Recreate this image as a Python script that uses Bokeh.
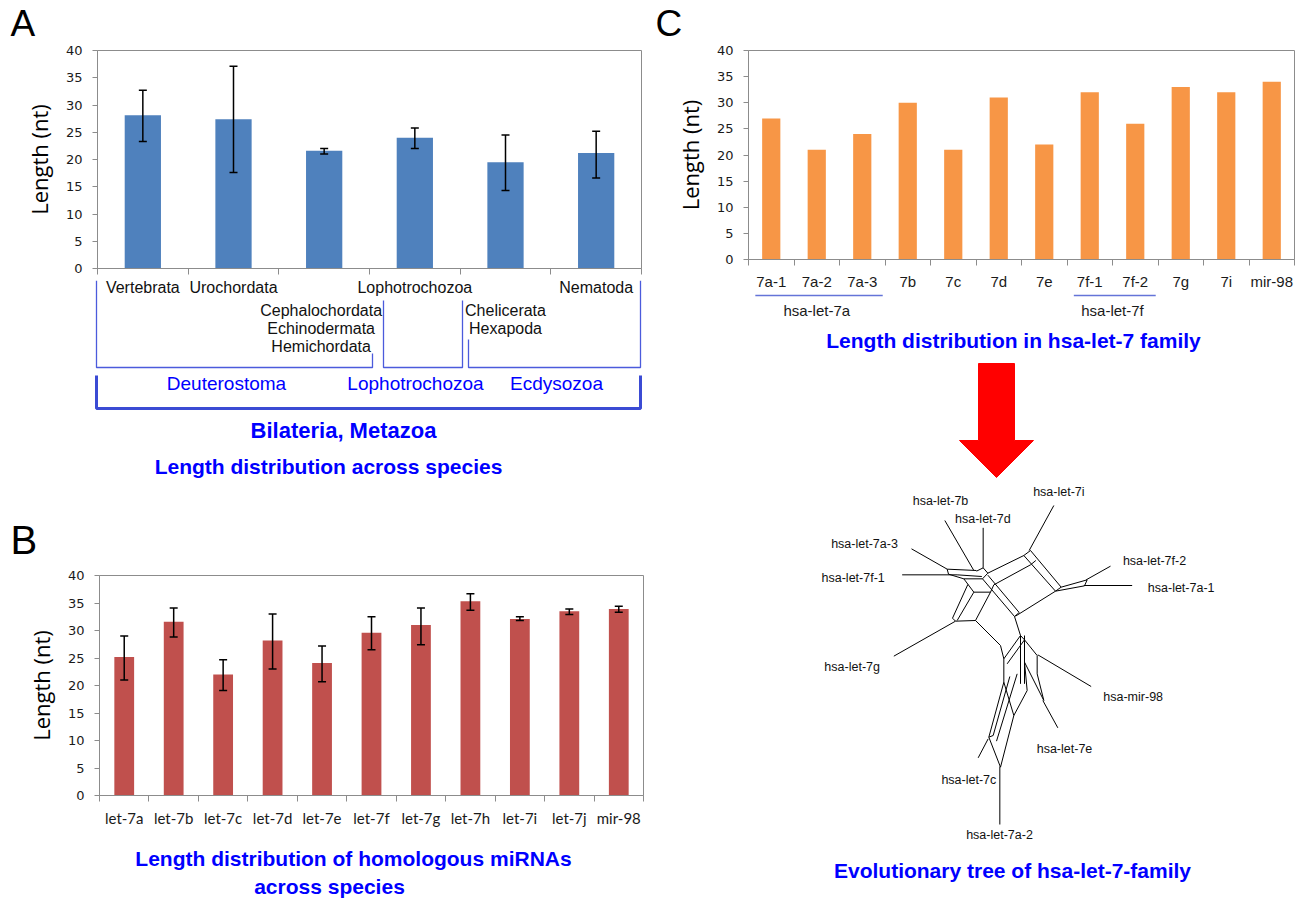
from bokeh.plotting import figure
from bokeh.models import Range1d, FixedTicker, ColumnDataSource, Whisker, TeeHead
from bokeh.layouts import row, column
from bokeh.core.properties import value
from bokeh.embed import file_html
from bokeh.resources import INLINE

# ---------------- data ----------------
# Panel A: length distribution across species
a_row1 = ["Vertebrata", "Urochordata", "", "Lophotrochozoa", "", "Nematoda"]
a_row2 = [[], [], ["Cephalochordata", "Echinodermata", "Hemichordata"], [], ["Chelicerata", "Hexapoda"], []]
a_values = [28.1, 27.4, 21.6, 24.0, 19.5, 21.2]
a_err_low = [23.3, 17.6, 21.0, 22.0, 14.3, 16.6]
a_err_high = [32.7, 37.1, 22.0, 25.8, 24.5, 25.2]
a_groups = ["Deuterostoma", "Lophotrochozoa", "Ecdysozoa"]

# Panel B: homologous miRNAs across species
b_labels = ["let-7a", "let-7b", "let-7c", "let-7d", "let-7e", "let-7f", "let-7g",
            "let-7h", "let-7i", "let-7j", "mir-98"]
b_values = [25.2, 31.6, 22.0, 28.2, 24.1, 29.6, 31.0, 35.3, 32.1, 33.5, 33.9]
b_err_low = [21.0, 28.8, 19.1, 23.0, 20.7, 26.5, 27.4, 33.7, 31.8, 32.9, 33.3]
b_err_high = [29.0, 34.1, 24.7, 33.0, 27.2, 32.5, 34.1, 36.7, 32.5, 33.9, 34.4]

# Panel C: hsa-let-7 family
c_labels = ["7a-1", "7a-2", "7a-3", "7b", "7c", "7d", "7e", "7f-1", "7f-2", "7g", "7i", "mir-98"]
c_values = [27, 21, 24, 30, 21, 31, 22, 32, 26, 33, 32, 34]
c_groups = ["hsa-let-7a", "hsa-let-7f"]
c_group_span = [(0, 2), (7, 8)]

y_ticks = [0, 5, 10, 15, 20, 25, 30, 35, 40]

# Evolutionary network (drawing units, 3 units = 1 px)
tree_segments = [
    (760, 105, 686, 240), (433, 150, 520, 300), (548, 172, 548, 292), (333, 235, 440, 296),
    (305, 313, 470, 313), (930, 287, 857, 328), (995, 345, 850, 345), (280, 557, 465, 452),
    (872, 648, 712, 553), (772, 772, 727, 690), (533, 862, 563, 805), (598, 1062, 598, 888),
    (440, 296, 528, 300), (440, 296, 444, 311), (444, 311, 490, 325), (490, 325, 546, 325),
    (470, 313, 544, 318), (548, 292, 562, 308), (548, 292, 528, 302), (562, 308, 546, 325),
    (562, 308, 670, 255), (580, 343, 690, 283), (670, 255, 690, 240), (690, 283, 706, 270),
    (670, 255, 765, 362), (690, 240, 782, 350), (765, 362, 782, 350),
    (782, 350, 860, 328), (765, 362, 852, 346), (852, 346, 860, 328),
    (765, 362, 645, 437), (546, 325, 642, 438), (562, 314, 656, 426), (642, 438, 656, 426),
    (490, 325, 520, 365), (520, 365, 470, 450), (502, 342, 456, 443), (456, 443, 465, 452),
    (520, 365, 570, 365), (570, 365, 525, 450), (465, 452, 525, 450), (570, 365, 580, 343),
    (525, 450, 600, 525), (600, 525, 610, 565), (642, 438, 660, 495), (660, 495, 610, 565),
    (672, 508, 620, 580), (660, 495, 660, 640), (672, 495, 672, 640), (660, 495, 672, 508),
    (672, 508, 710, 555), (710, 555, 710, 610), (710, 610, 730, 690), (672, 575, 730, 690),
    (610, 565, 610, 635), (610, 635, 640, 735), (680, 660, 640, 735), (672, 575, 680, 660),
    (610, 635, 565, 800), (628, 618, 578, 795), (650, 610, 588, 812), (640, 735, 600, 890),
    (565, 800, 600, 890), (578, 795, 565, 800),
]
tree_labels = ["hsa-let-7i", "hsa-let-7b", "hsa-let-7d", "hsa-let-7a-3", "hsa-let-7f-2",
               "hsa-let-7f-1", "hsa-let-7a-1", "hsa-let-7g", "hsa-mir-98", "hsa-let-7e",
               "hsa-let-7c", "hsa-let-7a-2"]
tree_label_x = [775, 420, 547, 192, 1062, 158, 1142, 155, 998, 792, 505, 597]
tree_label_y = [65, 92, 145, 220, 272, 323, 353, 590, 680, 835, 928, 1093]

# ---------------- style ----------------
SANS_NAME = "Liberation Sans"
SANS = value(SANS_NAME)
BLUE = "#0000ff"
LINEBLUE = "#4b5bdc"
GRAY = "#8c8c8c"


def canvas(x0, x1, y0, y1):
    p = figure(width=x1 - x0, height=y1 - y0, x_range=Range1d(x0, x1), y_range=Range1d(y1, y0),
               toolbar_location=None, output_backend="svg", min_border=0,
               x_axis_location=None, y_axis_location=None)
    p.frame_align = False
    p.grid.visible = False
    p.outline_line_color = None
    return p


def put_text(p, xs, ys, texts, size, color="black", font=SANS, style="normal",
             align="center", baseline="middle"):
    p.text(x=xs, y=ys, text=texts, text_font=font, text_font_size=size,
           text_font_style=style, text_color=color, text_align=align, text_baseline=baseline)


def bar_panel(width, height, borders, values, color, lo=None, hi=None, labels=None,
              label_font=SANS_NAME, label_size="15px", label_standoff=8):
    n = len(values)
    xs = list(range(n))
    p = figure(width=width, height=height, x_range=Range1d(-0.5, n - 0.5), y_range=Range1d(0, 40),
               toolbar_location=None, output_backend="svg")
    p.frame_align = False
    p.min_border_left, p.min_border_right, p.min_border_top, p.min_border_bottom = borders
    p.vbar(x=xs, top=values, width=0.4, fill_color=color, line_color=None)
    if lo is not None:
        es = ColumnDataSource(dict(x=xs, lower=lo, upper=hi))
        w = Whisker(source=es, base="x", lower="lower", upper="upper", line_color="black",
                    line_width=1.5, level="overlay",
                    upper_head=TeeHead(size=8, line_color="black", line_width=1.5),
                    lower_head=TeeHead(size=8, line_color="black", line_width=1.5))
        p.add_layout(w)
    p.grid.visible = False
    p.outline_line_color = GRAY
    p.background_fill_color = "white"

    xa = p.xaxis[0]
    xa.ticker = FixedTicker(ticks=xs, minor_ticks=[i - 0.5 for i in range(n + 1)])
    xa.major_tick_out = 0
    xa.major_tick_in = 0
    xa.minor_tick_out = 6
    xa.minor_tick_in = 0
    xa.minor_tick_line_color = GRAY
    xa.axis_line_color = GRAY
    if labels is None:
        xa.major_label_overrides = {i: "" for i in xs}
        xa.major_label_text_font_size = "1px"
        xa.major_label_standoff = 0
    else:
        xa.major_label_overrides = {i: lab for i, lab in zip(xs, labels)}
        xa.major_label_text_font = label_font
        xa.major_label_text_font_size = label_size
        xa.major_label_text_color = "#1a1a1a"
        xa.major_label_standoff = label_standoff

    ya = p.yaxis[0]
    ya.ticker = FixedTicker(ticks=y_ticks)
    ya.minor_tick_line_color = None
    ya.major_tick_out = 5
    ya.major_tick_in = 0
    ya.major_tick_line_color = GRAY
    ya.axis_line_color = GRAY
    ya.major_label_text_font = "DejaVu Sans"
    ya.major_label_text_font_size = "13px"
    ya.major_label_text_color = "#1a1a1a"
    ya.major_label_standoff = 10
    ya.axis_label = "Length (nt)"
    ya.axis_label_text_font = "Open Sans"
    ya.axis_label_text_font_size = "22px"
    ya.axis_label_text_font_style = "normal"
    ya.axis_label_text_color = "black"
    ya.axis_label_standoff = 9
    return p


# ---------------- left column (x 0..650) ----------------
hdrA = canvas(0, 650, 0, 44)
put_text(hdrA, [10], [23], ["A"], "37px", align="left")

figA = bar_panel(650, 236, (97, 9, 6, 12), a_values, "#4f81bd", a_err_low, a_err_high)

# brackets below panel A (pixel coordinates)
brA = canvas(0, 650, 280, 500)
a_left, a_cw = 97, (641 - 97) / 6
put_text(brA, [a_left + (i + 0.5) * a_cw for i, t in enumerate(a_row1) if t],
         [287] * sum(1 for t in a_row1 if t), [t for t in a_row1 if t], "16px", color="#111111")
r2x, r2y, r2t = [], [], []
for i, lines in enumerate(a_row2):
    for k, t in enumerate(lines):
        r2x.append(a_left + (i + 0.5) * a_cw - (3 if i == 2 else 0))
        r2y.append(310 + k * 18)
        r2t.append(t)
put_text(brA, r2x, r2y, r2t, "16px", color="#111111")
brA.multi_line(xs=[[96, 96, 372, 372], [383, 383, 462, 462], [468, 468, 640, 640]],
               ys=[[280, 367, 367, 353], [300, 367, 367, 300], [339, 367, 367, 280]],
               line_color=LINEBLUE, line_width=1.3)
brA.line(x=[96, 96, 640, 640], y=[375, 408, 408, 375], line_color="#3b4bd4", line_width=3)
put_text(brA, [226, 415, 556], [383, 383, 383], a_groups, "19px", color=BLUE)
put_text(brA, [343], [430], ["Bilateria, Metazoa"], "22px", color=BLUE, style="bold")
put_text(brA, [328], [466], ["Length distribution across species"], "21px", color=BLUE, style="bold")

hdrB = canvas(0, 650, 500, 560)
put_text(hdrB, [10], [539], ["B"], "40px", align="left")

figB = bar_panel(650, 275, (99, 7, 15, 40), b_values, "#c0504d", b_err_low, b_err_high,
                 labels=b_labels, label_font="Lato", label_size="15px", label_standoff=7)

ttlB = canvas(0, 650, 835, 898)
put_text(ttlB, [353], [858], ["Length distribution of homologous miRNAs"], "21px",
         color=BLUE, style="bold")
put_text(ttlB, [329], [886], ["across species"], "21px", color=BLUE, style="bold")

# ---------------- right column (x 650..1299) ----------------
hdrC = canvas(650, 1299, 0, 44)
put_text(hdrC, [655], [23], ["C"], "37px", align="left")

figC = bar_panel(649, 248, (98, 5, 6, 26), c_values, "#f79646", labels=c_labels,
                 label_font=SANS_NAME, label_size="15px", label_standoff=7)

figR = canvas(650, 1299, 292, 898)
c_left, c_cw = 748, (1294 - 748) / 12
figR.multi_line(xs=[[c_left + (a + 0.15) * c_cw, c_left + (b + 0.95) * c_cw] for a, b in c_group_span],
                ys=[[295, 295] for _ in c_group_span], line_color="#6474d8", line_width=1.5)
put_text(figR, [c_left + (a + b + 1) / 2 * c_cw for a, b in c_group_span], [310, 310],
         c_groups, "15px", color="#1a1a1a")
put_text(figR, [1013], [340], ["Length distribution in hsa-let-7 family"], "21px",
         color=BLUE, style="bold")
# red arrow
figR.patch(x=[978, 1014, 1014, 1033, 996, 959, 978], y=[363, 363, 440, 440, 477, 440, 440],
           fill_color="#ff0000", line_color="#ff0000")
# network tree
figR.segment(x0=[s[0] / 3 + 800 for s in tree_segments], y0=[s[1] / 3 + 470 for s in tree_segments],
             x1=[s[2] / 3 + 800 for s in tree_segments], y1=[s[3] / 3 + 470 for s in tree_segments],
             line_color="black", line_width=1)
put_text(figR, [x / 3 + 800 for x in tree_label_x], [y / 3 + 470 for y in tree_label_y],
         tree_labels, "12.5px", color="#111111")
put_text(figR, [1012], [870], ["Evolutionary tree of hsa-let-7-family"], "21px",
         color=BLUE, style="bold")

layout = row(column(hdrA, figA, brA, hdrB, figB, ttlB), column(hdrC, figC, figR))

with open("out.html", "w") as f:
    f.write(file_html(layout, INLINE))
